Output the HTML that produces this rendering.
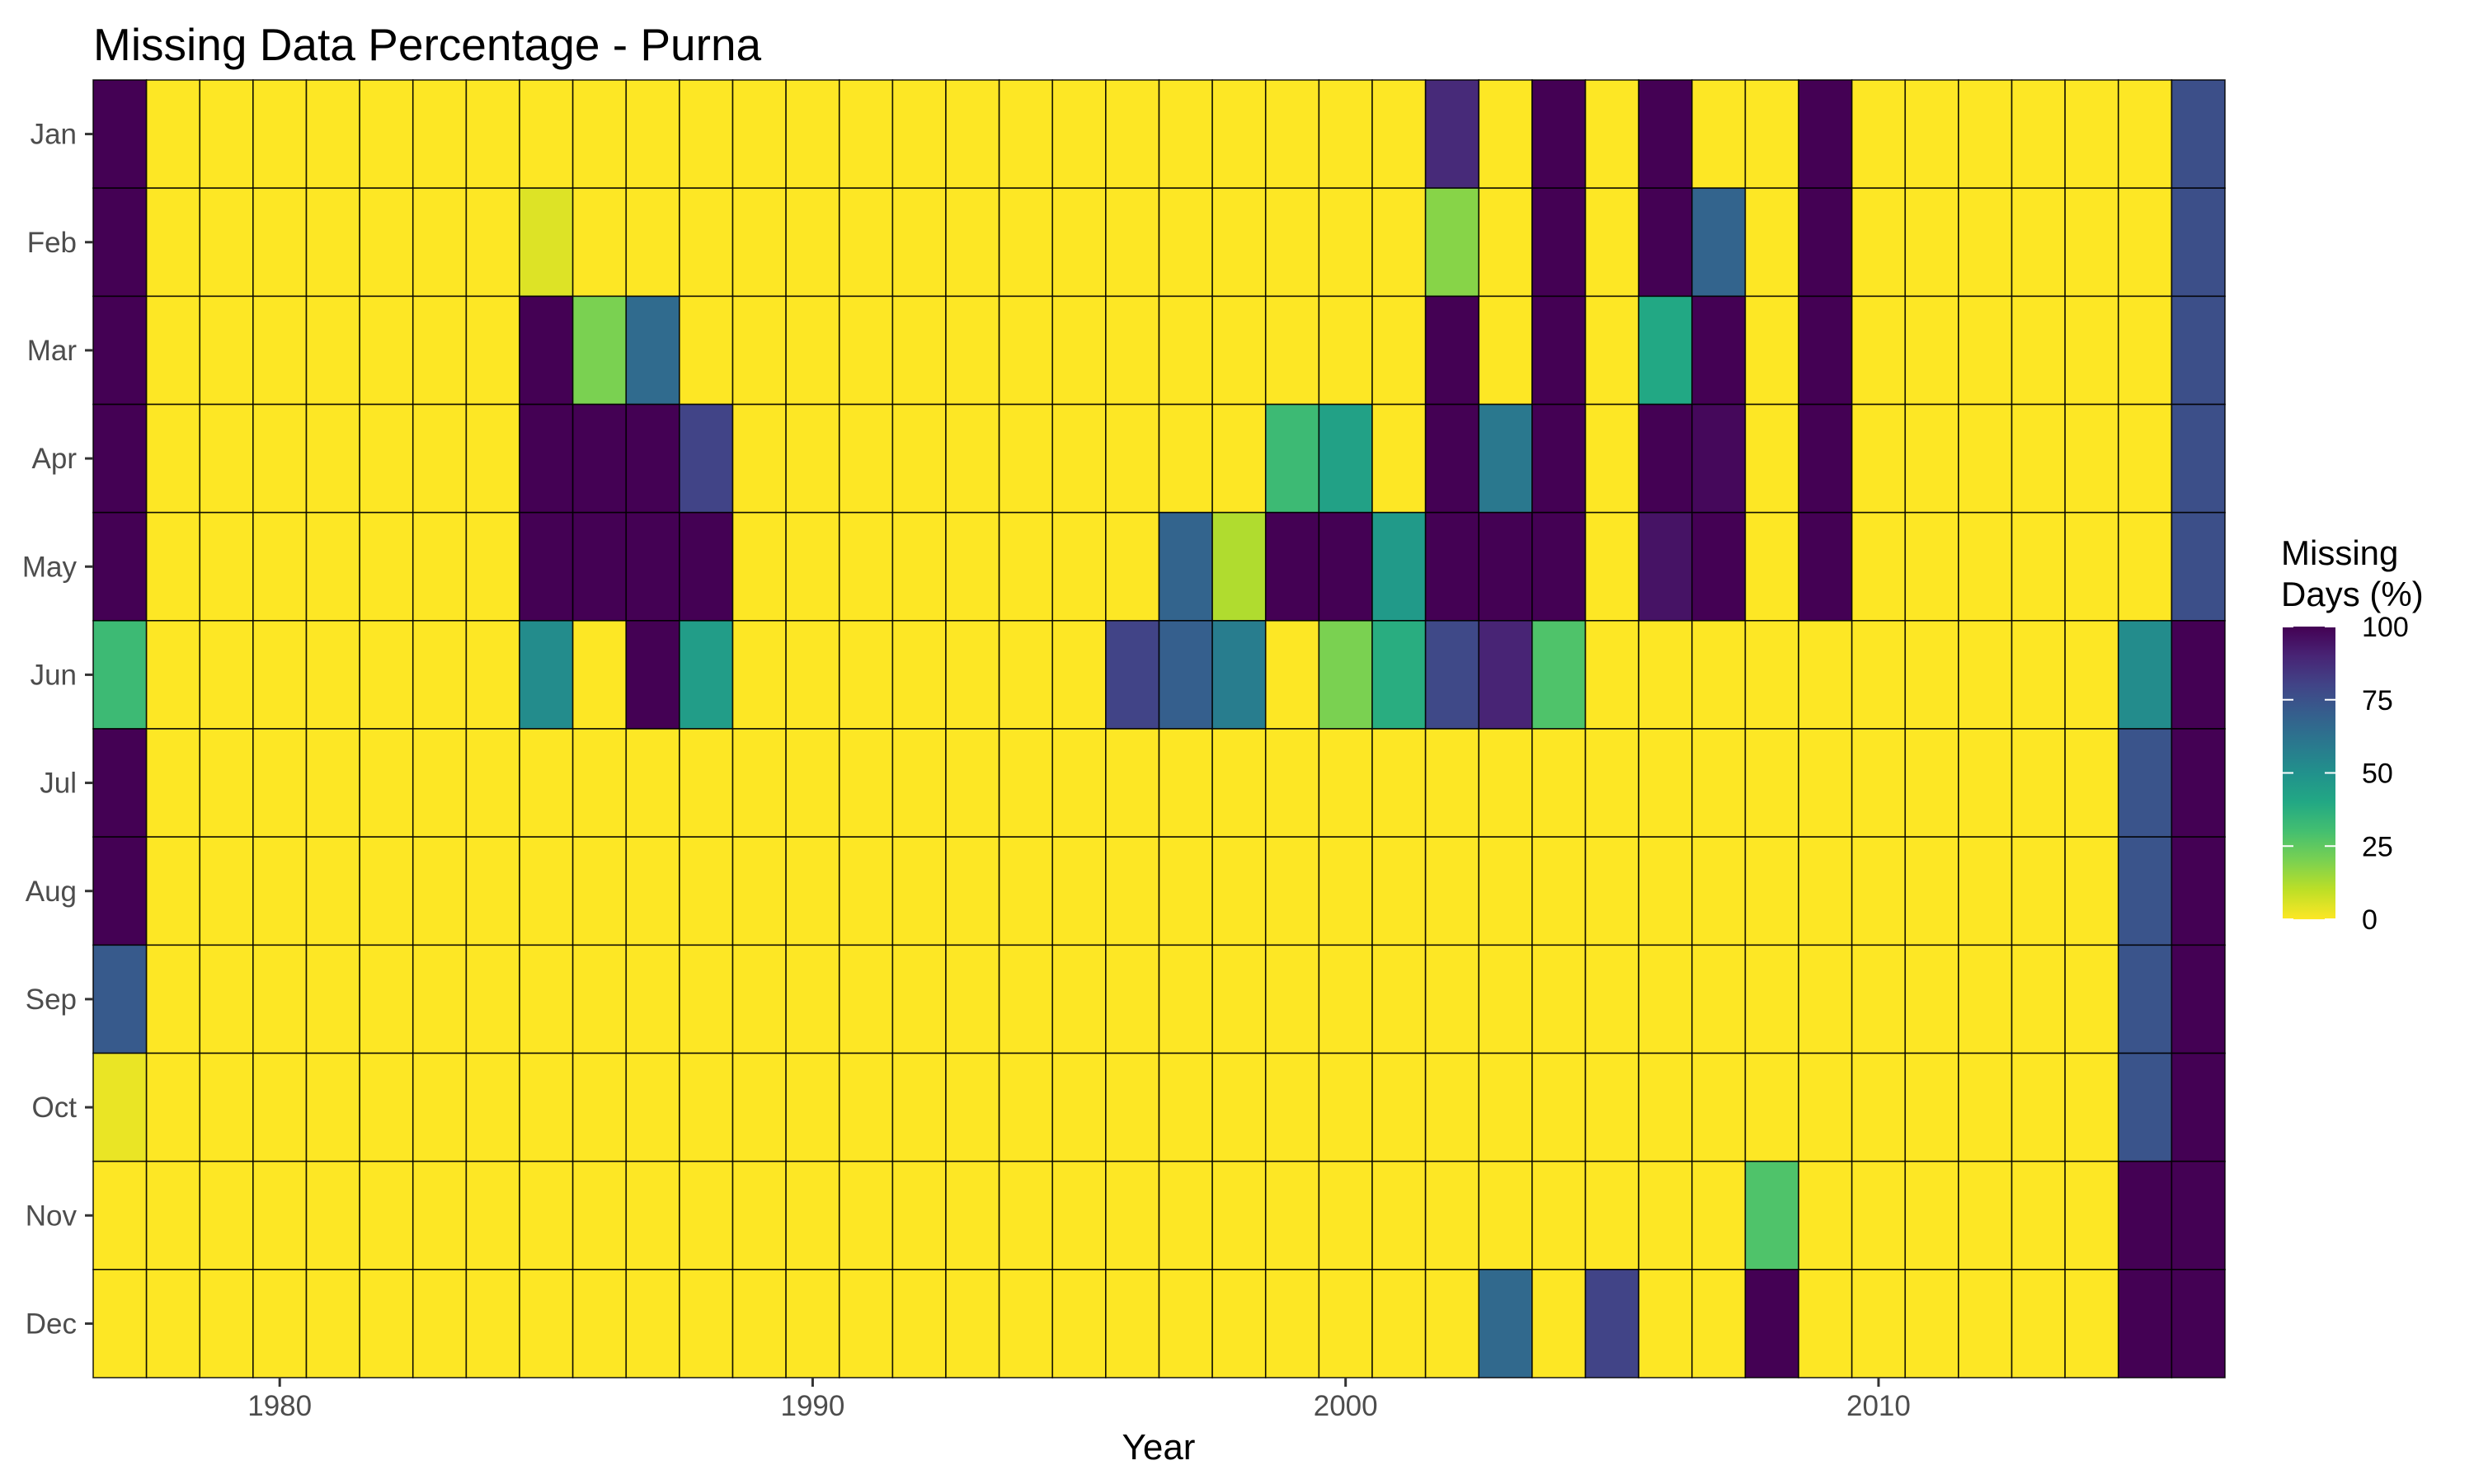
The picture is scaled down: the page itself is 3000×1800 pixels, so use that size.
<!DOCTYPE html>
<html><head><meta charset="utf-8"><style>
html,body{margin:0;padding:0;background:#fff;}
svg{display:block;font-family:"Liberation Sans",Arial,sans-serif;}
</style></head><body>
<svg id="chart" width="3000" height="1800" viewBox="0 0 3000 1800" xmlns="http://www.w3.org/2000/svg">
<defs>
<linearGradient id="cbar" x1="0" y1="1" x2="0" y2="0">
<stop offset="0" stop-color="#fde725"/><stop offset="0.1" stop-color="#bddf26"/><stop offset="0.2" stop-color="#7ad151"/><stop offset="0.3" stop-color="#44bf70"/><stop offset="0.4" stop-color="#22a884"/><stop offset="0.5" stop-color="#21918c"/><stop offset="0.6" stop-color="#2a788e"/><stop offset="0.7" stop-color="#355f8d"/><stop offset="0.8" stop-color="#414487"/><stop offset="0.9" stop-color="#482475"/><stop offset="1" stop-color="#440154"/>
</linearGradient>
</defs>
<text x="113" y="73" font-size="55" fill="#000">Missing Data Percentage - Purna</text>
<g id="tiles"></g>
<g id="axes"></g>
<text x="1405" y="1770" font-size="44" text-anchor="middle" fill="#000">Year</text>
<g>
<text x="2766" y="685" font-size="42" fill="#000">Missing</text>
<text x="2766" y="735" font-size="42" fill="#000">Days (%)</text>
<rect x="2768" y="760" width="64" height="355" fill="url(#cbar)"/>
<g id="legendTicks"></g>
</g>
</svg>
<script>
const years = [];
for (let y = 1977; y <= 2016; y++) years.push(y);
const months = ["Jan","Feb","Mar","Apr","May","Jun","Jul","Aug","Sep","Oct","Nov","Dec"];
const xTicks = [1980, 1990, 2000, 2010];
const legendTicks = [0, 25, 50, 75, 100];
// nonzero missing percentages: [year, monthIndex, value]
const cellYears = [1977,1977,1977,1977,1977,1977,1977,1977,1977,1977,
1985,1985,1985,1985,1985, 1986,1986,1986, 1987,1987,1987,1987, 1988,1988,1988,
1996, 1997,1997, 1998,1998, 1999,1999, 2000,2000,2000, 2001,2001,
2002,2002,2002,2002,2002,2002, 2003,2003,2003,2003, 2004,2004,2004,2004,2004,2004,
2005, 2006,2006,2006,2006,2006, 2007,2007,2007,2007, 2008,2008, 2009,2009,2009,2009,2009,
2015,2015,2015,2015,2015,2015,2015,
2016,2016,2016,2016,2016,2016,2016,2016,2016,2016,2016,2016];
const cellMonths = [0,1,2,3,4,5,6,7,8,9,
1,2,3,4,5, 2,3,4, 2,3,4,5, 3,4,5,
5, 4,5, 4,5, 3,4, 3,4,5, 4,5,
0,1,2,3,4,5, 3,4,5,11, 0,1,2,3,4,5,
11, 0,1,2,3,4, 1,2,3,4, 10,11, 0,1,2,3,4,
5,6,7,8,9,10,11,
0,1,2,3,4,5,6,7,8,9,10,11];
const cellValues = [100,100,100,100,100,32,100,100,72,3,
5,100,100,100,52, 20,100,100, 65,100,100,100, 80,100,45,
80, 68,70, 12,58, 32,100, 43,100,20, 46,38,
88,18,100,100,100,78, 60,100,90,66, 100,100,100,100,100,28,
80, 100,100,40,100,95, 68,100,98,100, 28,100, 100,100,100,100,100,
52,74,74,74,74,100,100,
76,76,76,76,76,100,100,100,100,100,100,100];

const NS = "http://www.w3.org/2000/svg";
const X0 = 113, X1 = 2698, Y0 = 97, Y1 = 1671;
const cw = (X1 - X0) / years.length, ch = (Y1 - Y0) / months.length;
function xPos(year){ return X0 + (year - years[0]) * cw; }
function xCenter(year){ return xPos(year) + cw/2; }
function yPos(m){ return Y0 + m * ch; }
const vstops = [[0,[253,231,37]],[0.1,[189,223,38]],[0.2,[122,209,81]],[0.3,[68,191,112]],[0.4,[34,168,132]],[0.5,[33,145,140]],[0.6,[42,120,142]],[0.7,[53,95,141]],[0.8,[65,68,135]],[0.9,[72,36,117]],[1,[68,1,84]]];
function color(v){
  const t = Math.max(0, Math.min(1, v/100));
  for (let i=1;i<vstops.length;i++){
    if (t <= vstops[i][0]){
      const a=vstops[i-1], b=vstops[i], f=(t-a[0])/(b[0]-a[0]);
      const c=a[1].map((c0,k)=>Math.round(c0+(b[1][k]-c0)*f));
      return `rgb(${c[0]},${c[1]},${c[2]})`;
    }
  }
  return "rgb(68,1,84)";
}
function mk(tag, attrs, parent){
  const e=document.createElementNS(NS,tag);
  for (const k in attrs) e.setAttribute(k, attrs[k]);
  parent.appendChild(e); return e;
}
const grid = {};
for (let i=0;i<cellYears.length;i++) grid[cellYears[i]+"-"+cellMonths[i]] = cellValues[i];
const tiles = document.getElementById("tiles");
years.forEach(yr => {
  months.forEach((mn, mi) => {
    const v = grid[yr+"-"+mi] || 0;
    const r = mk("rect", {x:xPos(yr), y:yPos(mi), width:cw, height:ch, fill:color(v), stroke:"#000", "stroke-width":1.6, "stroke-opacity":0.85}, tiles);
    
    
  });
});
const axes = document.getElementById("axes");
months.forEach((mn, mi) => {
  const cy = yPos(mi) + ch/2;
  const t = mk("line", {x1:X0-10, x2:X0, y1:cy, y2:cy, stroke:"#333", "stroke-width":3}, axes);
  
  
  const lb = mk("text", {x:X0-20, y:cy+12, "font-size":35, "text-anchor":"end", fill:"#4d4d4d"}, axes);
  lb.textContent = mn;
  
  
});
xTicks.forEach(yr => {
  const cx = xCenter(yr);
  const t = mk("line", {x1:cx, x2:cx, y1:Y1, y2:Y1+11, stroke:"#333", "stroke-width":3}, axes);
  
  
  const lb = mk("text", {x:cx, y:1717, "font-size":35, "text-anchor":"middle", fill:"#4d4d4d"}, axes);
  lb.textContent = yr;
  
  
});
const lt = document.getElementById("legendTicks");
legendTicks.forEach(v => {
  const y = 1115 - v/100*355;
  mk("line", {x1:2768, x2:2781, y1:y, y2:y, stroke:"#fff", "stroke-width":2}, lt);
  mk("line", {x1:2819, x2:2832, y1:y, y2:y, stroke:"#fff", "stroke-width":2}, lt);
  const lb = mk("text", {x:2864, y:y+12, "font-size":34, fill:"#000"}, lt);
  lb.textContent = v;
  
  
});
</script>
</body></html>
